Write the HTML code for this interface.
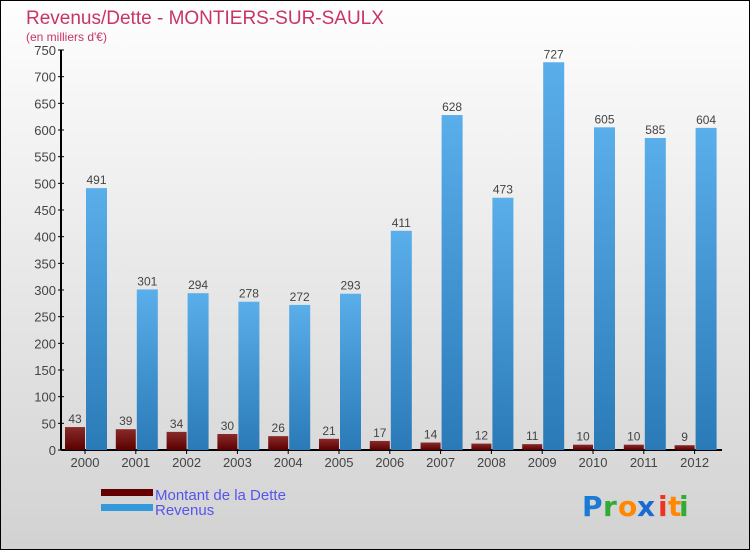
<!DOCTYPE html>
<html><head><meta charset="utf-8"><style>
html,body{margin:0;padding:0}
body{width:750px;height:550px;overflow:hidden;font-family:"Liberation Sans",sans-serif}
#wrap{position:relative;width:748px;height:548px;border:1px solid #000;background:linear-gradient(#fefefe,#d2d2d2)}
</style></head><body>
<div id="wrap">
<svg id="chart" width="748" height="548">
<defs>
<linearGradient id="gB" x1="0" y1="0" x2="0" y2="1"><stop offset="0" stop-color="#5aaeea"/><stop offset="1" stop-color="#2a7ab8"/></linearGradient>
<linearGradient id="gD" x1="0" y1="0" x2="0" y2="1"><stop offset="0" stop-color="#8a2a2a"/><stop offset="1" stop-color="#5a0000"/></linearGradient>
</defs>
<text x="25" y="23" font-size="19" fill="#c8336a">Revenus/Dette - MONTIERS-SUR-SAULX</text>
<text x="25" y="40" font-size="12" fill="#c8336a">(en milliers d'€)</text>
<g id="plot"></g>
<rect x="100" y="488" width="52" height="7" fill="#660000"/>
<text x="154" y="499" font-size="15" fill="#5555ee">Montant de la Dette</text>
<rect x="100" y="503" width="52" height="7" fill="#3399dd"/>
<text x="154" y="514" font-size="15" fill="#5555ee">Revenus</text>
<g font-size="28" font-weight="bold" font-family="'DejaVu Sans',sans-serif">
<text x="581" y="515" fill="#1a7ad4">P</text><text x="602" y="515" fill="#33aa33">r</text><text x="617" y="515" fill="#ff8800">o</text><text x="636" y="515" fill="#1a6ad4">x</text><text x="657" y="515" fill="#ee3322">i</text><text x="667" y="515" fill="#ff8800">t</text><text x="678" y="515" fill="#33aa33">i</text>
</g>
</svg>
</div>
<script>
const years=["2000","2001","2002","2003","2004","2005","2006","2007","2008","2009","2010","2011","2012"];
const dette=[43,39,34,30,26,21,17,14,12,11,10,10,9];
const revenus=[491,301,294,278,272,293,411,628,473,727,605,585,604];
const yTicks=[0,50,100,150,200,250,300,350,400,450,500,550,600,650,700,750];
const NS="http://www.w3.org/2000/svg";
const g=document.getElementById('plot');
const y0=449,yTop=49,yMax=750,axX=60,x0=84,step=50.8;
function ys(v){return y0-(v/yMax)*(y0-yTop);}
function xs(i){return x0+i*step;}
function mk(t,a){const e=document.createElementNS(NS,t);for(const k in a)e.setAttribute(k,a[k]);g.appendChild(e);return e;}
let e=mk('line',{x1:axX,y1:yTop,x2:axX,y2:y0,stroke:'#000','stroke-width':2});


e=mk('line',{x1:axX,y1:y0,x2:721,y2:y0,stroke:'#000','stroke-width':2});


yTicks.forEach(v=>{
  const y=ys(v);
  let t=mk('line',{x1:axX-3,y1:y,x2:axX+3,y2:y,stroke:'#000'});
  
  
  t=mk('text',{x:axX-5,y:y+5,'font-size':13,fill:'#444','text-anchor':'end'});
  t.textContent=v;
  
  
});
years.forEach((yr,i)=>{
  const c=xs(i);
  let t=mk('line',{x1:c,y1:y0,x2:c,y2:y0+4,stroke:'#000'});
  
  
  t=mk('text',{x:c,y:y0+17,'font-size':13,fill:'#444','text-anchor':'middle'});
  t.textContent=yr;
  
  
  const yd=ys(dette[i]);
  let b=mk('rect',{x:c-20,y:yd,width:20,height:y0-yd,fill:'url(#gD)'});
  
  
  t=mk('text',{x:c-10,y:yd-4,'font-size':12,fill:'#444','text-anchor':'middle'});
  t.textContent=dette[i];
  
  
  const yr2=ys(revenus[i]);
  b=mk('rect',{x:c+1,y:yr2,width:21,height:y0-yr2,fill:'url(#gB)'});
  
  
  t=mk('text',{x:c+11.5,y:yr2-4,'font-size':12,fill:'#444','text-anchor':'middle'});
  t.textContent=revenus[i];
  
  
});
</script>
</body></html>
